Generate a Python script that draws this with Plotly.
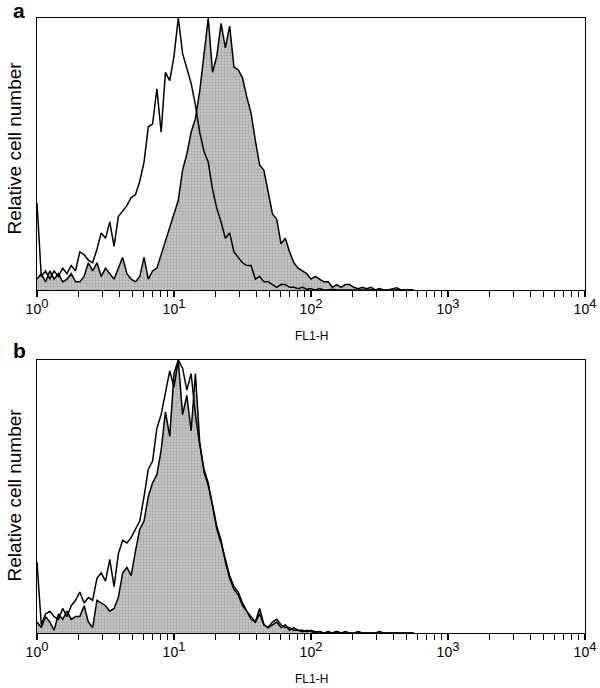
import plotly.graph_objects as go

# ---------------- data ----------------
CHANNELS_PER_DECADE = 32          # log-amplified channel resolution
channel = list(range(89))         # channel index, 0 .. 88
fl1h = [10 ** (c / CHANNELS_PER_DECADE) for c in channel]

tick_values = [1, 10, 100, 1000, 10000]
tick_exponents = ["0", "1", "2", "3", "4"]

# panel a : open (unfilled) histogram and filled (grey) histogram, % of max
open_a = [32, 5, 7, 4, 7, 5, 8, 6, 9, 7,
          14, 13, 11, 10, 15, 21, 19, 25, 16, 27,
          29, 31, 34, 35, 40, 47, 60, 61, 74, 58,
          80, 77, 86, 100, 87, 81, 76, 68, 58, 51,
          47, 37, 30, 25, 19, 21, 14, 12, 10, 9,
          9, 4, 5, 3, 3, 2, 1, 2, 2, 1,
          1, 0.5, 1, 0.3, 0.5, 0, 0.5, 0, 0, 0.3,
          0, 0, 0, 0, 0, 0, 0, 0, 0, 0,
          0, 0, 0, 0, 0, 0, 0, 0, 0]
filled_a = [4, 6, 3, 7, 4, 6, 3, 4, 6, 3,
            3, 5, 10, 7, 10, 5, 8, 6, 4, 8,
            12, 6, 4, 3, 5, 12, 4, 7, 8, 13,
            18, 23, 28, 33, 44, 50, 58, 63, 73, 86,
            100, 80, 86, 98, 89, 97, 82, 81, 78, 71,
            65, 55, 46, 44, 36, 28, 26, 17, 19, 14,
            10, 8, 7, 6, 4, 5, 4, 3, 3, 1,
            2, 1, 2, 2, 1, 0.5, 1, 0.5, 1, 0,
            0.5, 0, 0, 0.5, 0.8, 0, 0, 0, 0]

# panel b
open_b = [26, 3, 7, 8, 6, 5, 9, 6, 10, 12,
          15, 11, 13, 12, 20, 22, 19, 27, 17, 29,
          34, 33, 35, 38, 41, 50, 60, 63, 75, 80,
          88, 96, 90, 100, 97, 89, 95, 80, 69, 60,
          55, 46, 38, 33, 27, 21, 17, 15, 11, 8,
          6, 4, 7, 3, 2, 4, 5, 3, 2, 2,
          1, 1, 0.5, 1, 0.5, 0, 0.5, 0, 0, 0,
          0.5, 0, 0, 0, 0, 0, 0, 0, 0, 0,
          0, 0, 0, 0, 0, 0, 0, 0, 0]
filled_b = [4, 2, 6, 4, 1, 7, 5, 8, 5, 6,
            6, 10, 4, 2, 12, 11, 10, 8, 9, 13,
            22, 24, 21, 30, 38, 41, 50, 55, 58, 67,
            81, 72, 95, 100, 80, 87, 74, 95, 70, 59,
            54, 47, 39, 34, 26, 20, 16, 14, 10, 8,
            5, 4, 9, 3, 2, 3, 4, 2, 3, 1,
            2, 1, 1, 0.5, 1, 0.5, 0.5, 0, 0.5, 0,
            0.5, 0, 0.5, 0, 0, 0.5, 0, 0, 0, 0,
            0.5, 0, 0, 0, 0, 0, 0, 0, 0]

panel_labels = ["a", "b"]
y_title = "Relative cell number"
x_title = "FL1-H"

# ---------------- layout helpers ----------------
W, H = 600, 688


def fx(px):
    return px / W


def fy(py):
    return 1 - py / H


FONT = "Liberation Sans, Arial, sans-serif"
LINE = dict(color="black", width=1.5)
tick_labels = [f"10<sup><span style='font-size:13px'>{e}</span></sup>" for e in tick_exponents]

fig = go.Figure()
panels = [("x", "y", open_a, filled_a), ("x2", "y2", open_b, filled_b)]
for xa, ya, op, fi in panels:
    fig.add_trace(go.Scatter(
        x=fl1h, y=fi, xaxis=xa, yaxis=ya, mode="lines", line=LINE,
        fill="tozeroy", fillcolor="#c0c0c0",
        fillpattern=dict(shape=".", bgcolor="#c4c4c4", fgcolor="#888888",
                         size=3, solidity=0.35),
        hoverinfo="skip"))
    fig.add_trace(go.Scatter(
        x=fl1h, y=op, xaxis=xa, yaxis=ya, mode="lines", line=LINE,
        hoverinfo="skip"))

minor_vals = [m * 10 ** d for d in range(4) for m in range(2, 10)]

xcommon = dict(
    type="log", range=[0, 4], domain=[fx(37), fx(585)],
    showline=True, mirror=True, linecolor="black", linewidth=1.4,
    ticks="outside", ticklen=6, tickwidth=1.3, tickcolor="black",
    tickvals=tick_values, ticktext=tick_labels, ticklabeloverflow="allow",
    tickfont=dict(family=FONT, size=14, color="black"),
    minor=dict(ticks="outside", ticklen=6, tickwidth=1.3, tickcolor="black",
               tickvals=minor_vals, showgrid=False),
    showgrid=False, zeroline=False, automargin=False, fixedrange=True)
ycommon = dict(
    range=[0, 100], showline=True, mirror=True, linecolor="black", linewidth=1.4,
    ticks="", showticklabels=False, showgrid=False, zeroline=False,
    automargin=False, fixedrange=True)

fig.update_layout(
    width=W, height=H, margin=dict(l=0, r=0, t=0, b=0),
    paper_bgcolor="white", plot_bgcolor="white", showlegend=False,
    xaxis=dict(xcommon, anchor="y"),
    yaxis=dict(ycommon, anchor="x", domain=[fy(290), fy(18)]),
    xaxis2=dict(xcommon, anchor="y2"),
    yaxis2=dict(ycommon, anchor="x2", domain=[fy(633), fy(360)]),
)

annotations = []
for label, (lx, ly), ytc, xtc in [
        (panel_labels[0], (19, 10), 148, 336),
        (panel_labels[1], (19, 350), 495, 679)]:
    annotations.append(dict(text=f"<b>{label}</b>", x=fx(lx), y=fy(ly), xref="paper", yref="paper",
                            showarrow=False, xanchor="center", yanchor="middle",
                            font=dict(family=FONT, size=21, color="black")))
    annotations.append(dict(text=y_title, x=fx(14.5), y=fy(ytc), xref="paper", yref="paper",
                            showarrow=False, xanchor="center", yanchor="middle", textangle=-90,
                            font=dict(family=FONT, size=19, color="black")))
    annotations.append(dict(text=x_title, x=fx(311), y=fy(xtc), xref="paper", yref="paper",
                            showarrow=False, xanchor="center", yanchor="middle",
                            font=dict(family=FONT, size=12, color="black")))
fig.update_layout(annotations=annotations)

fig.write_html(
    "out.html",
    config={"displayModeBar": False, "staticPlot": True},
    post_script="document.body.style.margin='0';document.body.style.overflow='hidden';")
